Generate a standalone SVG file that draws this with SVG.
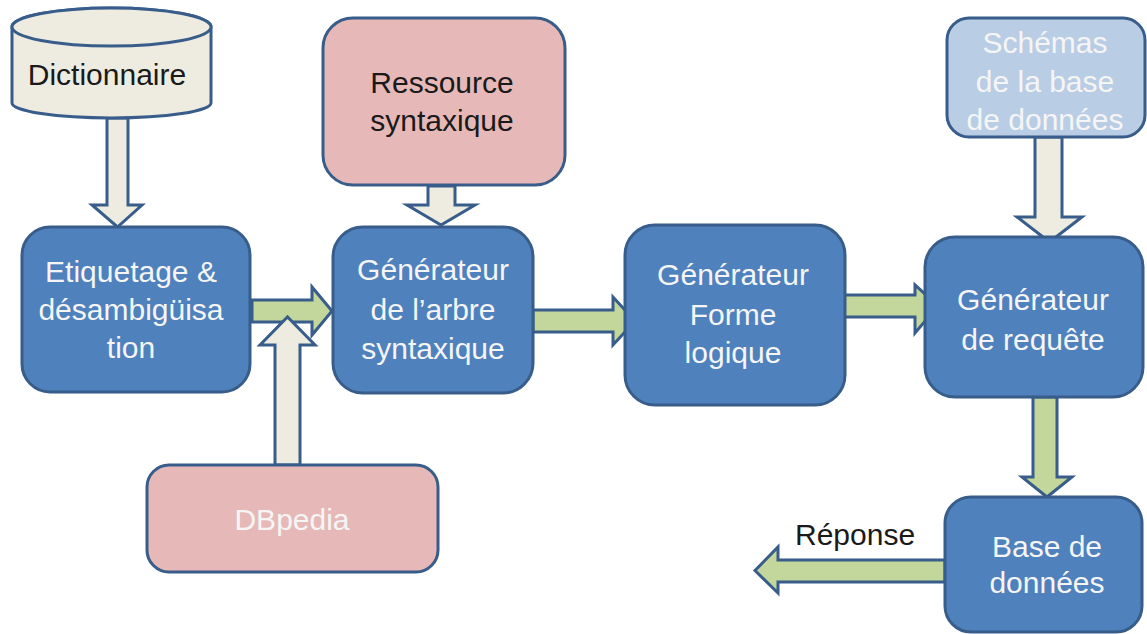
<svg xmlns="http://www.w3.org/2000/svg" width="1147" height="634" viewBox="0 0 1147 634">
<style>
.box{stroke:#385D8A;stroke-width:3}
.blue{fill:#4F81BD}
.pink{fill:#E6B9B8}
.lblue{fill:#B9CDE5}
.beige{fill:#EEECE1}
.arr{stroke:#385D8A;stroke-width:3;stroke-linejoin:miter}
.g{fill:#C3D69B}
.b{fill:#EEECE1}
text{font-family:"Liberation Sans",Arial,sans-serif;text-anchor:middle;font-size:30px}
.w{fill:#F5F5F5}
.d{fill:#1A1A1A}
</style>
<rect width="1147" height="634" fill="#FFFFFF"/>
<g id="connectors">
<polygon id="c-dict" class="arr b" points="107,118 128,118 128,205 142,205 117.5,227 92,205 107,205"/>
<polygon id="c-ress" class="arr b" points="428,186 455,186 455,205 475,205 441,225 407,205 428,205"/>
<polygon id="c-schema" class="arr b" points="1035,137 1062,137 1062,217 1082,217 1049.5,242 1017,217 1035,217"/>
<polygon id="c-etiq" class="arr g" points="252,300 312,300 312,287 332,311 312,335 312,322 252,322"/>
<polygon id="c-dbp" class="arr b" points="275,465 275,345 260,345 287.5,317 315,345 300,345 300,465"/>
<polygon id="c-arbre" class="arr g" points="533,310 613,310 613,297 635,321 613,345 613,332 533,332"/>
<polygon id="c-forme" class="arr g" points="833,295 915,295 915,285 938,306 915,333 915,317 833,317"/>
<polygon id="c-req" class="arr g" points="1033,397 1057,397 1057,477 1072,477 1047,497 1022,477 1033,477"/>
<polygon id="c-rep" class="arr g" points="945,560 778,560 778,547 755,570.5 778,593 778,582 945,582"/>
</g>
<g id="dictionnaire">
<path class="box beige" d="M12,27 L12,103 A99.5,15 0 0 0 211,103 L211,27 A99.5,19 0 0 0 12,27 Z"/>
<ellipse class="box beige" cx="111.5" cy="27" rx="99.5" ry="19"/>
<text class="d" x="107" y="85" font-size="32">Dictionnaire</text>
</g>
<g id="ressource">
<rect class="box pink" x="323" y="18" width="242" height="167" rx="30"/>
<text class="d" x="442" y="93" font-size="28">Ressource</text>
<text class="d" x="442" y="131" font-size="28">syntaxique</text>
</g>
<g id="schemas">
<rect class="box lblue" x="947" y="18" width="198" height="119" rx="22"/>
<text class="w" x="1045" y="53">Schémas</text>
<text class="w" x="1045" y="92">de la base</text>
<text class="w" x="1045" y="130">de données</text>
</g>
<g id="etiquetage">
<rect class="box blue" x="22" y="227" width="228" height="165" rx="28"/>
<text class="w" x="131" y="282" font-size="32">Etiquetage &amp;</text>
<text class="w" x="131" y="320" font-size="32">désambigüisa</text>
<text class="w" x="131" y="358" font-size="32">tion</text>
</g>
<g id="arbre">
<rect class="box blue" x="333" y="227" width="200" height="166" rx="30"/>
<text class="w" x="433" y="280">Générateur</text>
<text class="w" x="433" y="320">de l’arbre</text>
<text class="w" x="433" y="359">syntaxique</text>
</g>
<g id="forme">
<rect class="box blue" x="625" y="225" width="220" height="180" rx="30"/>
<text class="w" x="733" y="285">Générateur</text>
<text class="w" x="733" y="325">Forme</text>
<text class="w" x="733" y="363">logique</text>
</g>
<g id="requete">
<rect class="box blue" x="925" y="237" width="218" height="160" rx="30"/>
<text class="w" x="1033" y="310">Générateur</text>
<text class="w" x="1033" y="350">de requête</text>
</g>
<g id="dbpedia">
<rect class="box pink" x="147" y="465" width="291" height="107" rx="22"/>
<text class="w" x="292" y="530" font-size="29">DBpedia</text>
</g>
<g id="base">
<rect class="box blue" x="945" y="497" width="197" height="135" rx="26"/>
<text class="w" x="1047" y="557">Base de</text>
<text class="w" x="1047" y="593">données</text>
</g>
<text id="reponse" class="d" x="795" y="545" font-size="28" style="text-anchor:start">Réponse</text>
</svg>
